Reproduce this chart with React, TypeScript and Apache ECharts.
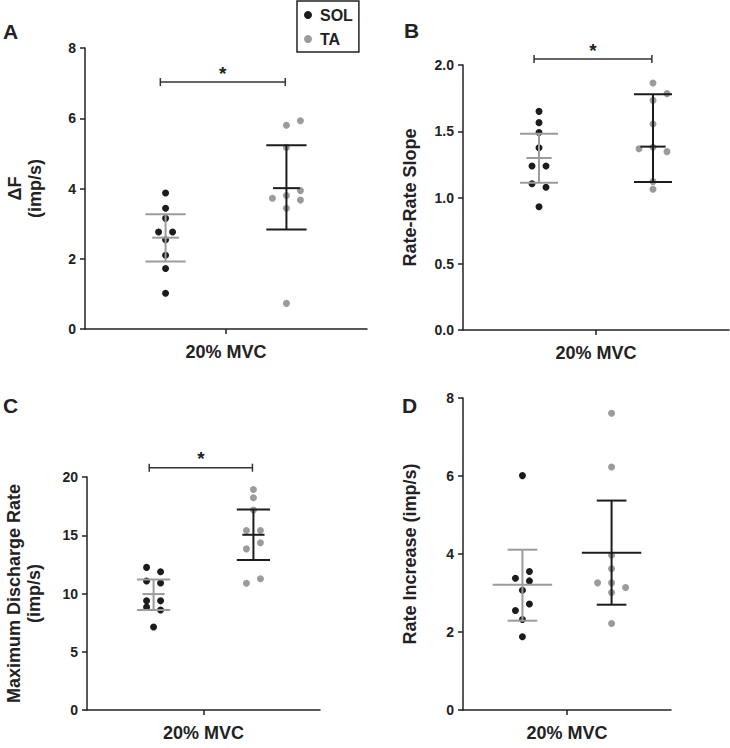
import React, { useEffect, useRef } from 'react';
import * as echarts from 'echarts';

// ---------- data ----------
const panelLetters = ['A', 'B', 'C', 'D'];
const yTitles = ['ΔF\n(imp/s)', 'Rate-Rate Slope', 'Maximum Discharge Rate\n(imp/s)', 'Rate Increase (imp/s)'];
const xCategory = '20% MVC';
const groupNames = ['SOL', 'TA'];
const yMax = [8, 2, 20, 8];
const yInterval = [2, 0.5, 5, 2];

// individual motor-unit values per panel
const solA = [3.87, 3.44, 3.15, 2.76, 2.76, 2.54, 2.1, 1.72, 1.02];
const taA = [5.8, 5.93, 5.17, 3.94, 3.8, 3.72, 3.67, 3.44, 0.73];
const solB = [1.65, 1.565, 1.49, 1.376, 1.238, 1.238, 1.104, 1.077, 0.93];
const taB = [1.864, 1.784, 1.733, 1.555, 1.368, 1.379, 1.346, 1.12, 1.062];
const solC = [12.24, 11.87, 11.07, 10.9, 9.37, 9.37, 8.83, 8.59, 7.13];
const taC = [18.93, 18.22, 17.16, 15.41, 15.41, 14.35, 13.83, 11.27, 10.88];
const solD = [6.01, 3.55, 3.38, 3.31, 3.07, 2.72, 2.55, 2.32, 1.88];
const taD = [7.61, 6.23, 3.97, 3.62, 3.26, 3.26, 3.14, 3.01, 2.22];

// column index of each dot in the scatter swarm
const solJitA = [0, 0, 0, -0.5, 0.5, 0, 0, 0, 0];
const taJitA = [0, 1, 0, 1, 0, -1, 1, 0, 0];
const solJitB = [0, 0, 0, 0, -0.5, 0.5, -0.5, 0.5, 0];
const taJitB = [0, 1, 0, 0, -1, 0, 1, 0, 0];
const solJitC = [-0.5, 0.5, -0.5, 0.5, -0.5, 0.5, -0.5, 0.5, 0];
const taJitC = [0, 0, 0, -0.5, 0.5, 0.5, -0.5, 0.5, -0.5];
const solJitD = [0, 0.5, -0.5, 0.5, 0, 0.5, -0.5, 0, 0];
const taJitD = [0, 0, 0, 0, -1, 0, 1, 0, 0];

// summary bars: [centre, low, high]
const solBarA = [2.6, 1.92, 3.27];
const taBarA = [4.01, 2.83, 5.23];
const solBarB = [1.298, 1.112, 1.482];
const taBarB = [1.384, 1.117, 1.78];
const solBarC = [9.95, 8.59, 11.21];
const taBarC = [15.04, 12.88, 17.22];
const solBarD = [3.21, 2.29, 4.11];
const taBarD = [4.03, 2.7, 5.37];

// significance bracket height (null = no bracket)
const sigLevel = [7.03, 2.045, 20.8, null];
const sigMark = '*';

// ---------- layout / style ----------
const FONT = '"Liberation Sans", Arial, Helvetica, sans-serif';
const TXT = '#222';
const SOL_COLOR = '#1c1c1c';
const TA_COLOR = '#9b9b9b';
const grids = [
  { left: 85, top: 48, width: 282, height: 281 },
  { left: 463, top: 65, width: 266, height: 265 },
  { left: 87, top: 477, width: 233, height: 233 },
  { left: 463, top: 398, width: 208, height: 312 },
];
const nameGaps = [40, 43, 43, 43];
const letterPos = [[3, 32], [404, 31], [3, 406], [402, 406]];
const meanHalf = [0.333, 0.333, 0.333, 1.0];
const capHalf = 0.5;
const X_SOL = 2;
const X_TA = 5;
const STEP_PX = 14;

const solVals = [solA, solB, solC, solD];
const taVals = [taA, taB, taC, taD];
const solJit = [solJitA, solJitB, solJitC, solJitD];
const taJit = [taJitA, taJitB, taJitC, taJitD];
const solBars = [solBarA, solBarB, solBarC, solBarD];
const taBars = [taBarA, taBarB, taBarC, taBarD];

function buildOption() {
  const series: any[] = [];
  const xAxis: any[] = [];
  const yAxis: any[] = [];
  const graphic: any[] = [];

  grids.forEach((g, i) => {
    xAxis.push({
      type: 'value', gridIndex: i, min: 0, max: 7,
      axisLine: { show: true, lineStyle: { color: TXT, width: 1.5 } },
      axisTick: { show: true, customValues: [3.5], length: 5, lineStyle: { color: TXT, width: 1.5 } },
      axisLabel: { show: false },
      splitLine: { show: false },
      name: xCategory, nameLocation: 'middle', nameGap: 14,
      nameTextStyle: { fontFamily: FONT, fontWeight: 'bold', fontSize: 18, color: TXT },
    });
    yAxis.push({
      type: 'value', gridIndex: i, min: 0, max: yMax[i], interval: yInterval[i],
      axisLine: { show: true, lineStyle: { color: TXT, width: 1.5 } },
      axisTick: { show: true, length: 5, lineStyle: { color: TXT, width: 1.5 } },
      axisLabel: {
        fontFamily: FONT, fontWeight: 'bold', fontSize: 14, color: TXT, margin: 9,
        formatter: (v: number) => (i === 1 ? v.toFixed(1) : String(v)),
      },
      splitLine: { show: false },
      name: yTitles[i], nameLocation: 'middle', nameGap: nameGaps[i], nameRotate: 90,
      nameTextStyle: { fontFamily: FONT, fontWeight: 'bold', fontSize: 18, color: TXT, lineHeight: 20 },
    });

    const dots = (vals: number[], jit: number[], x: number) =>
      vals.map((v, k) => ({ value: [x, v], symbolOffset: [jit[k] * STEP_PX, 0] }));

    series.push({
      type: 'scatter', name: groupNames[0], xAxisIndex: i, yAxisIndex: i,
      symbolSize: 7, itemStyle: { color: SOL_COLOR, opacity: 1 },
      data: dots(solVals[i], solJit[i], X_SOL), z: 2,
    });
    series.push({
      type: 'scatter', name: groupNames[1], xAxisIndex: i, yAxisIndex: i,
      symbolSize: 7, itemStyle: { color: TA_COLOR, opacity: 1 },
      data: dots(taVals[i], taJit[i], X_TA), z: 2,
    });

    const mh = meanHalf[i];
    series.push({
      type: 'custom', xAxisIndex: i, yAxisIndex: i, z: 3, silent: true,
      data: [
        [X_SOL, ...solBars[i], 0],
        [X_TA, ...taBars[i], 1],
      ],
      renderItem: (params: any, api: any) => {
        const x = api.value(0);
        const pm = api.coord([x, api.value(1)]);
        const pl = api.coord([x, api.value(2)]);
        const ph = api.coord([x, api.value(3)]);
        const color = api.value(4) === 0 ? TA_COLOR : SOL_COLOR;
        const unit = api.size([1, 0])[0];
        const c = capHalf * unit;
        const m = mh * unit;
        const st = { stroke: color, lineWidth: 2, fill: null };
        return {
          type: 'group',
          children: [
            { type: 'line', shape: { x1: pl[0], y1: pl[1], x2: ph[0], y2: ph[1] }, style: st },
            { type: 'line', shape: { x1: ph[0] - c, y1: ph[1], x2: ph[0] + c, y2: ph[1] }, style: st },
            { type: 'line', shape: { x1: pl[0] - c, y1: pl[1], x2: pl[0] + c, y2: pl[1] }, style: st },
            { type: 'line', shape: { x1: pm[0] - m, y1: pm[1], x2: pm[0] + m, y2: pm[1] }, style: st },
          ],
        };
      },
    });

    if (sigLevel[i] !== null) {
      series.push({
        type: 'custom', xAxisIndex: i, yAxisIndex: i, z: 3, silent: true, clip: false,
        data: [[1.87, 4.97, sigLevel[i]]],
        renderItem: (params: any, api: any) => {
          const p1 = api.coord([api.value(0), api.value(2)]);
          const p2 = api.coord([api.value(1), api.value(2)]);
          const st = { stroke: '#333', lineWidth: 1.5, fill: null };
          return {
            type: 'group',
            children: [
              { type: 'line', shape: { x1: p1[0], y1: p1[1], x2: p2[0], y2: p2[1] }, style: st },
              { type: 'line', shape: { x1: p1[0], y1: p1[1] - 4, x2: p1[0], y2: p1[1] + 4 }, style: st },
              { type: 'line', shape: { x1: p2[0], y1: p2[1] - 4, x2: p2[0], y2: p2[1] + 4 }, style: st },
              {
                type: 'text',
                style: {
                  text: sigMark, x: (p1[0] + p2[0]) / 2, y: p1[1] - 9,
                  align: 'center', verticalAlign: 'middle',
                  font: `bold 19px ${FONT}`, fill: TXT,
                },
              },
            ],
          };
        },
      });
    }

    graphic.push({
      type: 'text', left: letterPos[i][0], top: letterPos[i][1] - 11,
      style: { text: panelLetters[i], font: `bold 21px ${FONT}`, fill: TXT },
    });
  });

  return {
    animation: false,
    backgroundColor: '#fff',
    grid: grids.map((g) => ({ ...g, containLabel: false })),
    xAxis, yAxis, series, graphic,
    legend: {
      data: groupNames, orient: 'vertical', left: 297, top: 1,
      padding: [4, 6, 3, 7], itemGap: 4, itemWidth: 14, itemHeight: 8, icon: 'circle',
      borderColor: TXT, borderWidth: 1.5, selectedMode: false,
      itemStyle: { opacity: 1 },
      textStyle: { fontFamily: FONT, fontWeight: 'bold', fontSize: 16, color: TXT, lineHeight: 20 },
    },
  };
}

export default function App() {
  const ref = useRef<HTMLDivElement>(null);
  useEffect(() => {
    if (!ref.current) return;
    const chart = echarts.init(ref.current, null, { renderer: 'svg' });
    chart.setOption(buildOption() as any);
    return () => chart.dispose();
  }, []);
  return (
    <div
      ref={ref}
      style={{ position: 'fixed', left: 0, top: 0, width: 730, height: 748, background: '#fff' }}
    />
  );
}
